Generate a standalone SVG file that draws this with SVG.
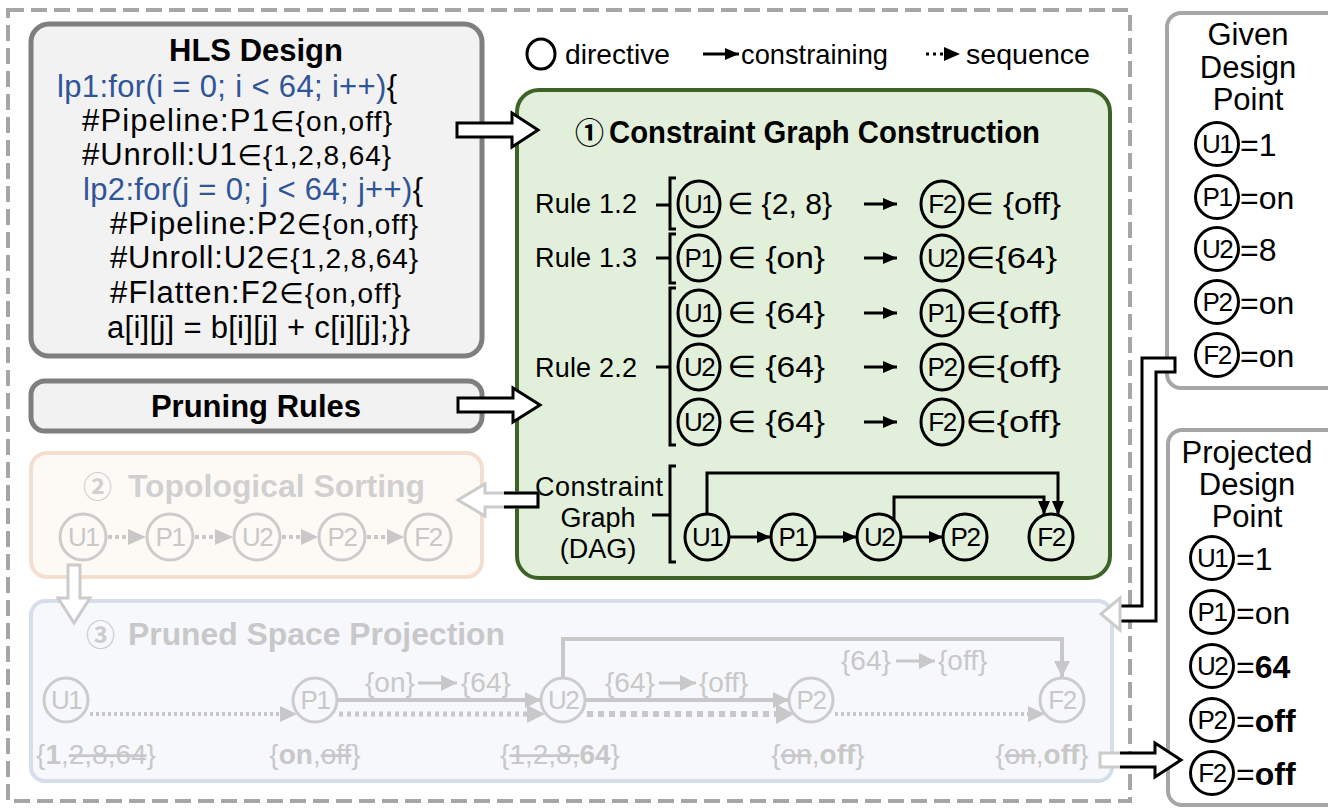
<svg xmlns="http://www.w3.org/2000/svg" width="1328" height="808" viewBox="0 0 1328 808">
<defs>
<style>
text{font-family:"Liberation Sans",Arial,"DejaVu Sans",sans-serif;fill:#000}
.ttl{font-weight:bold;font-size:31px}
.code{font-size:31px}
.blue{fill:#2f5597}
.sym{font-size:28px}
.r{font-size:27px}
.rv{font-size:30px}
.cl{font-size:26px;text-anchor:middle;letter-spacing:-1.5px}
.nd{fill:none;stroke:#000;stroke-width:3}
.gnd{fill:none;stroke:#cccccc;stroke-width:3}
.gt{fill:#c8c8c8}
.gl{stroke:#c8c8c8;fill:none}
.dp{font-size:31px;text-anchor:middle}
.val{font-size:32px}
.bl{stroke:#000;stroke-width:3;fill:none}
.hol{fill:#fff;stroke:#000;stroke-width:3}
.ghol{fill:#fff;stroke:#cccccc;stroke-width:3}
.st{text-decoration:line-through}
.bd{font-weight:bold}
.circ{font-family:"Noto Sans CJK SC","DejaVu Sans",sans-serif;font-weight:bold;font-size:29px}
.lg{font-size:28px}
.pl{font-size:28px}
</style>
<marker id="ab" viewBox="0 0 14 12" refX="14" refY="6" markerWidth="14" markerHeight="12" markerUnits="userSpaceOnUse" orient="auto"><path d="M0,0L14,6L0,12z" fill="#000"/></marker>
<marker id="ag" viewBox="0 0 16 16" refX="16" refY="8" markerWidth="16" markerHeight="16" markerUnits="userSpaceOnUse" orient="auto"><path d="M0,0L16,8L0,16z" fill="#c8c8c8"/></marker>
</defs>

<rect x="8" y="10" width="1122" height="791" fill="none" stroke="#a6a6a6" stroke-width="4" stroke-dasharray="16,7"/>

<g id="hls-design">
<rect x="31" y="24" width="451" height="332" rx="18" fill="#f2f2f2" stroke="#7f7f7f" stroke-width="5"/>
<text class="ttl" x="256" y="61" text-anchor="middle">HLS Design</text>
<text class="code" x="57" y="97" textLength="340" lengthAdjust="spacing"><tspan class="blue">lp1:for(i = 0; i &lt; 64; i++)</tspan>{</text>
<text class="code" x="82" y="131" textLength="310" lengthAdjust="spacing">#Pipeline:P1<tspan class="sym">∈{on,off}</tspan></text>
<text class="code" x="82" y="165" textLength="309" lengthAdjust="spacing">#Unroll:U1<tspan class="sym">∈{1,2,8,64}</tspan></text>
<text class="code" x="83" y="200" textLength="340" lengthAdjust="spacing"><tspan class="blue">lp2:for(j = 0; j &lt; 64; j++)</tspan>{</text>
<text class="code" x="110" y="234" textLength="308" lengthAdjust="spacing">#Pipeline:P2<tspan class="sym">∈{on,off}</tspan></text>
<text class="code" x="110" y="268" textLength="308" lengthAdjust="spacing">#Unroll:U2<tspan class="sym">∈{1,2,8,64}</tspan></text>
<text class="code" x="110" y="303" textLength="291" lengthAdjust="spacing">#Flatten:F2<tspan class="sym">∈{on,off}</tspan></text>
<text class="code" x="107" y="338" textLength="303" lengthAdjust="spacing">a[i][j] = b[i][j] + c[i][j];}}</text>
</g>

<g id="pruning-rules">
<rect x="31" y="381" width="451" height="50" rx="14" fill="#f2f2f2" stroke="#7f7f7f" stroke-width="5"/>
<text class="ttl" x="256" y="417" text-anchor="middle">Pruning Rules</text>
</g>

<g id="legend">
<ellipse cx="541" cy="54" rx="14" ry="15" class="nd"/>
<text class="lg" x="565" y="64" textLength="105" lengthAdjust="spacingAndGlyphs">directive</text>
<line x1="703" y1="54" x2="739" y2="54" class="bl" marker-end="url(#ab)"/>
<text class="lg" x="741" y="64" textLength="147" lengthAdjust="spacingAndGlyphs">constraining</text>
<line x1="926" y1="54" x2="944" y2="54" stroke="#000" stroke-width="3" stroke-dasharray="3,4"/>
<path d="M944,47L960,54L944,61z" fill="#000"/>
<text class="lg" x="966" y="64" textLength="124" lengthAdjust="spacingAndGlyphs">sequence</text>
</g>

<g id="constraint-graph-construction">
<rect x="517" y="90" width="593" height="488" rx="22" fill="#e2efda" stroke="#3e6327" stroke-width="4"/>
<text class="circ" x="575" y="144">①</text>
<text class="ttl" x="609" y="143" font-size="29" textLength="431" lengthAdjust="spacingAndGlyphs">Constraint Graph Construction</text>

<text class="r" x="535" y="213" textLength="102">Rule 1.2</text>
<text class="r" x="535" y="267" textLength="102">Rule 1.3</text>
<text class="r" x="535" y="377" textLength="102">Rule 2.2</text>
<path class="bl" stroke-width="2" d="M656,205H670M676,178H670V229H676M656,258H670M676,234H670V283H676M656,367H670M676,288H670V445H676"/>

<ellipse cx="699" cy="204" rx="21" ry="23" class="nd"/><text class="cl" x="699" y="213">U1</text>
<ellipse cx="699" cy="258" rx="21" ry="23" class="nd"/><text class="cl" x="699" y="267">P1</text>
<ellipse cx="699" cy="313" rx="21" ry="23" class="nd"/><text class="cl" x="699" y="322">U1</text>
<ellipse cx="699" cy="367" rx="21" ry="23" class="nd"/><text class="cl" x="699" y="376">U2</text>
<ellipse cx="699" cy="422" rx="21" ry="23" class="nd"/><text class="cl" x="699" y="431">U2</text>

<text class="rv" x="727" y="214" textLength="105" lengthAdjust="spacingAndGlyphs">∈ {2, 8}</text>
<text class="rv" x="727" y="268" textLength="98" lengthAdjust="spacingAndGlyphs">∈ {on}</text>
<text class="rv" x="727" y="323" textLength="98" lengthAdjust="spacingAndGlyphs">∈ {64}</text>
<text class="rv" x="727" y="377" textLength="98" lengthAdjust="spacingAndGlyphs">∈ {64}</text>
<text class="rv" x="727" y="432" textLength="98" lengthAdjust="spacingAndGlyphs">∈ {64}</text>

<line x1="864" y1="204" x2="897" y2="204" class="bl" marker-end="url(#ab)"/>
<line x1="864" y1="258" x2="897" y2="258" class="bl" marker-end="url(#ab)"/>
<line x1="864" y1="313" x2="897" y2="313" class="bl" marker-end="url(#ab)"/>
<line x1="864" y1="367" x2="897" y2="367" class="bl" marker-end="url(#ab)"/>
<line x1="864" y1="422" x2="897" y2="422" class="bl" marker-end="url(#ab)"/>

<ellipse cx="942" cy="204" rx="21" ry="23" class="nd"/><text class="cl" x="942" y="213">F2</text>
<ellipse cx="942" cy="258" rx="21" ry="23" class="nd"/><text class="cl" x="942" y="267">U2</text>
<ellipse cx="942" cy="313" rx="21" ry="23" class="nd"/><text class="cl" x="942" y="322">P1</text>
<ellipse cx="942" cy="367" rx="21" ry="23" class="nd"/><text class="cl" x="942" y="376">P2</text>
<ellipse cx="942" cy="422" rx="21" ry="23" class="nd"/><text class="cl" x="942" y="431">F2</text>

<text class="rv" x="965" y="214" textLength="96" lengthAdjust="spacingAndGlyphs">∈ {off}</text>
<text class="rv" x="965" y="268" textLength="92" lengthAdjust="spacingAndGlyphs">∈{64}</text>
<text class="rv" x="965" y="323" textLength="96" lengthAdjust="spacingAndGlyphs">∈{off}</text>
<text class="rv" x="965" y="377" textLength="96" lengthAdjust="spacingAndGlyphs">∈{off}</text>
<text class="rv" x="965" y="432" textLength="96" lengthAdjust="spacingAndGlyphs">∈{off}</text>

<text class="r" x="535" y="496" font-size="28" textLength="128">Constraint</text>
<text class="r" x="598" y="527" font-size="28" text-anchor="middle">Graph</text>
<text class="r" x="598" y="558" font-size="23" text-anchor="middle">(DAG)</text>
<path class="bl" stroke-width="2" d="M652,515H670M676,466H670V562H676"/>

<ellipse cx="707" cy="537" rx="22" ry="23" class="nd"/><text class="cl" x="707" y="546">U1</text>
<ellipse cx="793" cy="537" rx="22" ry="23" class="nd"/><text class="cl" x="793" y="546">P1</text>
<ellipse cx="879" cy="537" rx="22" ry="23" class="nd"/><text class="cl" x="879" y="546">U2</text>
<ellipse cx="965" cy="537" rx="22" ry="23" class="nd"/><text class="cl" x="965" y="546">P2</text>
<ellipse cx="1051" cy="537" rx="22" ry="23" class="nd"/><text class="cl" x="1051" y="546">F2</text>
<line x1="730" y1="537" x2="771" y2="537" class="bl" marker-end="url(#ab)"/>
<line x1="816" y1="537" x2="857" y2="537" class="bl" marker-end="url(#ab)"/>
<line x1="902" y1="537" x2="943" y2="537" class="bl" marker-end="url(#ab)"/>
<path class="bl" d="M707,514V473H1058V515" marker-end="url(#ab)"/>
<path class="bl" d="M894,520V497H1044V515" marker-end="url(#ab)"/>
</g>

<g id="topological-sorting">
<rect x="31" y="453" width="451" height="124" rx="16" fill="#fdfaf6" stroke="#f3dfcf" stroke-width="4"/>
<text class="circ" x="83" y="498" style="fill:#d0d0d0">②</text>
<text class="ttl gt" x="128" y="497" textLength="297" lengthAdjust="spacingAndGlyphs" style="fill:#d0d0d0">Topological Sorting</text>
<circle cx="83" cy="537" r="23" class="gnd"/><text class="cl gt" x="83" y="546">U1</text>
<circle cx="170" cy="537" r="23" class="gnd"/><text class="cl gt" x="170" y="546">P1</text>
<circle cx="257" cy="537" r="23" class="gnd"/><text class="cl gt" x="257" y="546">U2</text>
<circle cx="342" cy="537" r="23" class="gnd"/><text class="cl gt" x="342" y="546">P2</text>
<circle cx="428" cy="537" r="23" class="gnd"/><text class="cl gt" x="428" y="546">F2</text>
<g stroke="#c8c8c8" stroke-width="4" stroke-dasharray="4,3">
<line x1="108" y1="537" x2="128" y2="537"/>
<line x1="195" y1="537" x2="215" y2="537"/>
<line x1="282" y1="537" x2="301" y2="537"/>
<line x1="367" y1="537" x2="387" y2="537"/>
</g>
<g fill="#c8c8c8">
<path d="M128,529L146,537L128,545z"/>
<path d="M215,529L233,537L215,545z"/>
<path d="M301,529L318,537L301,545z"/>
<path d="M387,529L404,537L387,545z"/>
</g>
</g>

<g id="pruned-space-projection">
<rect x="31" y="601" width="1081" height="180" rx="14" fill="#f6f8fc" stroke="#d6deec" stroke-width="4"/>
<text class="circ" x="86" y="646" style="fill:#cccccc">③</text>
<text class="ttl gt" x="128" y="645" textLength="377" lengthAdjust="spacingAndGlyphs">Pruned Space Projection</text>

<circle cx="66" cy="700" r="22" class="gnd" stroke-width="4"/><text class="cl gt" x="66" y="709">U1</text>
<circle cx="315" cy="700" r="22" class="gnd" stroke-width="4"/><text class="cl gt" x="315" y="709">P1</text>
<circle cx="563" cy="700" r="22" class="gnd" stroke-width="4"/><text class="cl gt" x="563" y="709">U2</text>
<circle cx="811" cy="700" r="22" class="gnd" stroke-width="4"/><text class="cl gt" x="811" y="709">P2</text>
<circle cx="1062" cy="700" r="22" class="gnd" stroke-width="4"/><text class="cl gt" x="1062" y="709">F2</text>

<line x1="90" y1="714" x2="280" y2="714" stroke="#c8c8c8" stroke-width="4" stroke-dasharray="3,3"/>
<path d="M280,706L297,714L280,722z" fill="#c8c8c8"/>
<line x1="339" y1="714" x2="527" y2="714" stroke="#c8c8c8" stroke-width="5" stroke-dasharray="4,4"/>
<path d="M527,705L545,714L527,723z" fill="#c8c8c8"/>
<line x1="587" y1="714" x2="776" y2="714" stroke="#c8c8c8" stroke-width="6" stroke-dasharray="6,5"/>
<path d="M776,704L794,714L776,724z" fill="#c8c8c8"/>
<line x1="835" y1="714" x2="1028" y2="714" stroke="#c8c8c8" stroke-width="4" stroke-dasharray="3,3"/>
<path d="M1028,706L1045,714L1028,722z" fill="#c8c8c8"/>

<line x1="337" y1="700" x2="541" y2="700" class="gl" stroke-width="4" marker-end="url(#ag)"/>
<line x1="585" y1="700" x2="789" y2="700" class="gl" stroke-width="4" marker-end="url(#ag)"/>
<path d="M563,678V639H1062V677" class="gl" stroke-width="4" marker-end="url(#ag)"/>

<text class="pl gt" x="365" y="692">{on}</text>
<line x1="418" y1="683" x2="457" y2="683" class="gl" stroke-width="3" marker-end="url(#ag)"/>
<text class="pl gt" x="461" y="692">{64}</text>

<text class="pl gt" x="605" y="692">{64}</text>
<line x1="659" y1="683" x2="696" y2="683" class="gl" stroke-width="3" marker-end="url(#ag)"/>
<text class="pl gt" x="699" y="692">{off}</text>

<text class="pl gt" x="841" y="670">{64}</text>
<line x1="896" y1="661" x2="935" y2="661" class="gl" stroke-width="3" marker-end="url(#ag)"/>
<text class="pl gt" x="938" y="670">{off}</text>

<text class="pl gt" x="96" y="764" text-anchor="middle">{<tspan class="bd">1</tspan>,<tspan class="st">2,8,64</tspan>}</text>
<text class="pl gt" x="315" y="764" text-anchor="middle">{<tspan class="bd">on</tspan>,<tspan class="st">off</tspan>}</text>
<text class="pl gt" x="560" y="764" text-anchor="middle">{<tspan class="st">1,2,8,</tspan><tspan class="bd">64</tspan>}</text>
<text class="pl gt" x="818" y="764" text-anchor="middle">{<tspan class="st">on</tspan>,<tspan class="bd">off</tspan>}</text>
<text class="pl gt" x="1042" y="764" text-anchor="middle">{<tspan class="st">on</tspan>,<tspan class="bd">off</tspan>}</text>
</g>

<g id="given-design-point">
<rect x="1167" y="13" width="200" height="375" rx="14" fill="#fff" stroke="#a6a6a6" stroke-width="4"/>
<text class="dp" x="1248" y="45">Given</text>
<text class="dp" x="1248" y="78">Design</text>
<text class="dp" x="1248" y="110">Point</text>
<circle cx="1217" cy="144" r="21.5" class="nd"/><text class="cl" x="1217" y="153">U1</text><text class="val" x="1240" y="156">=1</text>
<circle cx="1217" cy="197" r="21.5" class="nd"/><text class="cl" x="1217" y="206">P1</text><text class="val" x="1240" y="209">=on</text>
<circle cx="1217" cy="249" r="21.5" class="nd"/><text class="cl" x="1217" y="258">U2</text><text class="val" x="1240" y="261">=8</text>
<circle cx="1217" cy="302" r="21.5" class="nd"/><text class="cl" x="1217" y="311">P2</text><text class="val" x="1240" y="314">=on</text>
<circle cx="1217" cy="355" r="21.5" class="nd"/><text class="cl" x="1217" y="364">F2</text><text class="val" x="1240" y="367">=on</text>
</g>

<g id="projected-design-point">
<rect x="1168" y="430" width="200" height="375" rx="14" fill="#fff" stroke="#a6a6a6" stroke-width="4"/>
<text class="dp" x="1247" y="463">Projected</text>
<text class="dp" x="1247" y="495">Design</text>
<text class="dp" x="1247" y="527">Point</text>
<circle cx="1212" cy="558" r="21.5" class="nd"/><text class="cl" x="1212" y="567">U1</text><text class="val" x="1236" y="570">=1</text>
<circle cx="1212" cy="612" r="21.5" class="nd"/><text class="cl" x="1212" y="621">P1</text><text class="val" x="1236" y="624">=on</text>
<circle cx="1212" cy="666" r="21.5" class="nd"/><text class="cl" x="1212" y="675">U2</text><text class="val" x="1236" y="678">=<tspan class="bd">64</tspan></text>
<circle cx="1212" cy="720" r="21.5" class="nd"/><text class="cl" x="1212" y="729">P2</text><text class="val" x="1236" y="732">=<tspan class="bd">off</tspan></text>
<circle cx="1212" cy="773" r="21.5" class="nd"/><text class="cl" x="1212" y="782">F2</text><text class="val" x="1236" y="785">=<tspan class="bd">off</tspan></text>
</g>

<g id="connectors">
<polygon class="hol" points="457,123 512,123 512,113 538,130 512,147 512,137 457,137"/>
<polygon class="hol" points="458,398 513,398 513,388 540,405 513,422 513,412 458,412"/>
<polygon class="ghol" points="538,493 485,493 485,484 458,500 485,516 485,507 538,507"/>
<path class="bl" d="M504,493H538V507H504"/>
<polygon class="ghol" points="68,565 80,565 80,598 90,598 74,623 58,598 68,598"/>
<polygon fill="#fff" points="1120,606 1142,606 1142,358 1175,358 1175,372 1156,372 1156,621 1120,621"/>
<path class="bl" d="M1120,606H1142V358H1175V372H1156V621H1120"/>
<polygon class="ghol" points="1120,606 1120,598 1101,614 1120,630 1120,621"/>
<polygon fill="#fff" points="1100,753 1155,753 1155,743 1181,760 1155,777 1155,767 1100,767"/>
<path d="M1120,753H1100V767H1120" stroke="#cccccc" stroke-width="3" fill="none"/>
<path class="bl" d="M1120,753H1155V743L1181,760L1155,777V767H1120"/>
</g>
</svg>
